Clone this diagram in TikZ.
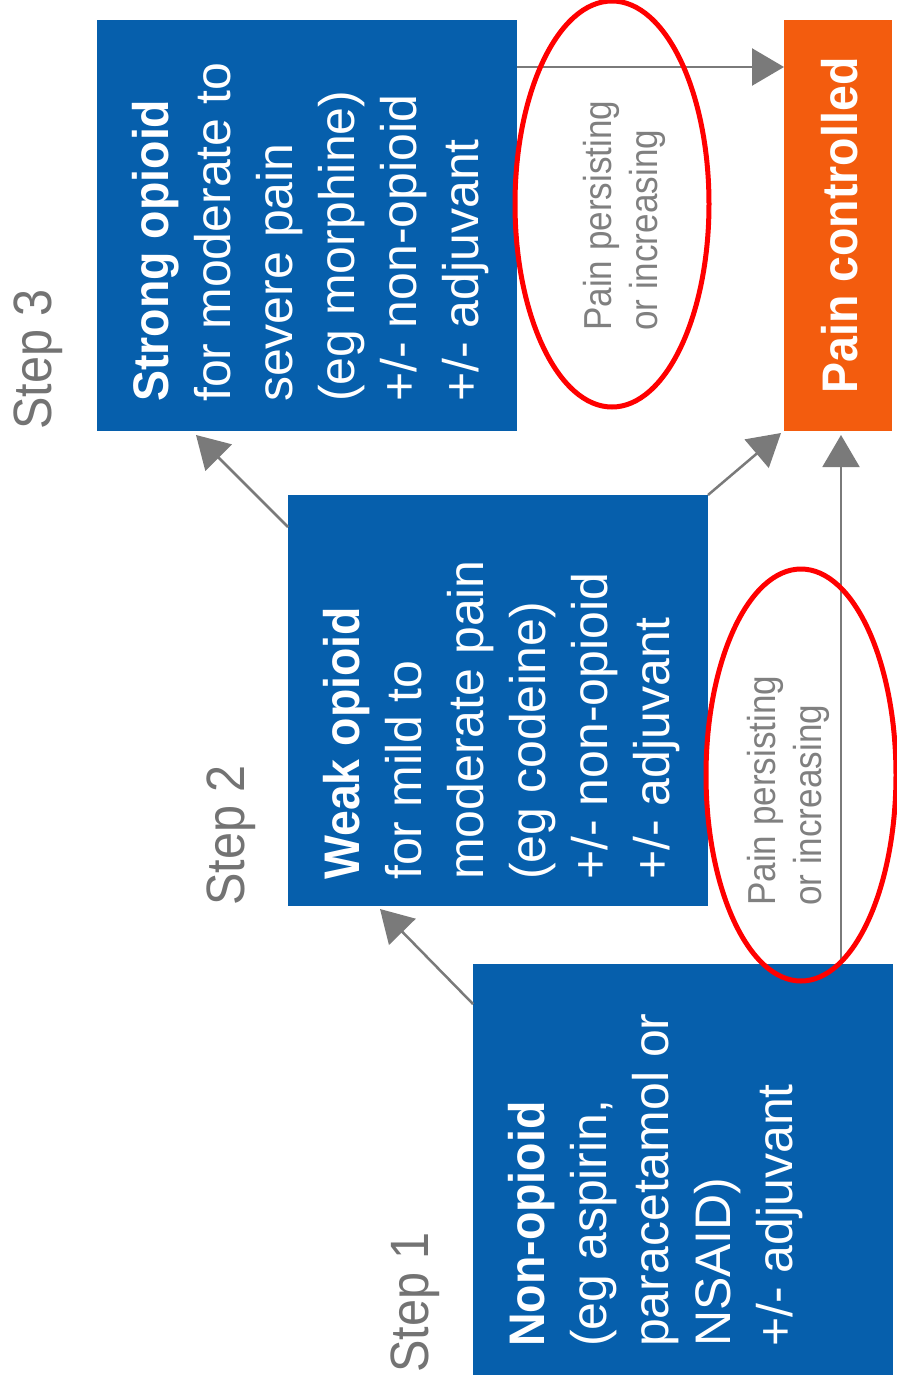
\documentclass[tikz,border=0pt]{standalone}
\usepackage{fontspec}
\setmainfont{Liberation Sans}
\newfontfamily\bcond{Liberation Sans}[FakeStretch=0.93]
\newfontfamily\rcond{Liberation Sans}[FakeStretch=0.9]
\usetikzlibrary{arrows.meta,calc}
\definecolor{boxblue}{RGB}{6,95,172}
\definecolor{pcorange}{RGB}{243,92,14}
\definecolor{arrgray}{RGB}{122,122,122}
\definecolor{labgray}{RGB}{115,115,115}
\definecolor{notegray}{RGB}{128,128,128}
\tikzset{
  stepbox/.style={fill=boxblue, draw=none, inner sep=0pt, outer sep=0pt, anchor=north west,
    minimum width=420pt, minimum height=411pt},
  pcbox/.style={fill=pcorange, draw=none, inner sep=0pt, outer sep=0pt, anchor=north west,
    minimum width=108pt, minimum height=411pt},
  boxtext/.style={text=white, align=left, inner sep=0pt, rotate=90, anchor=north west,
    font=\fontsize{50}{62}\selectfont},
  pctext/.style={text=white, inner sep=0pt, rotate=90, font=\fontsize{50}{62}\selectfont\bcond\bfseries},
  steplabel/.style={text=labgray, inner sep=0pt, rotate=90, anchor=north west,
    font=\fontsize{54}{60}\selectfont\rcond},
  notetext/.style={text=notegray, align=left, inner sep=0pt, rotate=90, anchor=north west,
    font=\fontsize{39}{46}\selectfont\rcond},
  arr/.style={draw=arrgray, line width=2.5pt, -{Triangle[length=32pt,width=37pt]}},
  redring/.style={draw=red, line width=5pt}
}
\begin{document}
\begin{tikzpicture}[x=1pt,y=-1pt]
\fill[white] (0,0) rectangle (897,1393);
\useasboundingbox (0,0) rectangle (897,1393);

% boxes
\node[stepbox] (b3) at (97,20) {};
\node[stepbox] (b2) at (288,495) {};
\node[stepbox] (b1) at (473,964) {};
\node[pcbox] (pc) at (784,20) {};

% box texts
\node[boxtext] (t3) at (132,402) {{\bcond\bfseries Strong opioid}\\for moderate to\\severe pain\\(eg morphine)\\+/- non-opioid\\+/- adjuvant};
\node[boxtext] (t2) at (323,880) {{\bcond\bfseries Weak opioid}\\for mild to\\moderate pain\\(eg codeine)\\+/- non-opioid\\+/- adjuvant};
\node[boxtext] (t1) at (508,1347) {{\bcond\bfseries Non-opioid}\\(eg aspirin,\\paracetamol or\\NSAID)\\+/- adjuvant};
\node[pctext] (tpc) at ([xshift=2pt]pc.center) {Pain controlled};

% step labels
\node[steplabel] (s3) at (14,430) {Step 3};
\node[steplabel] (s2) at (207,906) {Step 2};
\node[steplabel] (s1) at (391,1373) {Step 1};

% connectors
\coordinate (a3) at ([yshift=-47pt]b3.north east);
\draw[arr] (a3) -- (a3 -| pc.west);
\draw[arr] ([yshift=-32pt]b2.north west) -- ([xshift=99pt,yshift=-4pt]b3.south west);
\draw[arr] (b2.north east) -- ([xshift=-3pt,yshift=-2pt]pc.south west);
\draw[arr] ([yshift=-40pt]b1.north west) -- ([xshift=92pt,yshift=-3pt]b2.south west);
\coordinate (v1) at ([xshift=3pt]pc.south |- b1.north);
\draw[arr, line width=2pt] (v1) -- ([yshift=-4pt]v1 |- pc.south);

% notes
\node[notetext] (n1) at (583,331) {Pain persisting\\or increasing};
\node[notetext] (n2) at (747,906) {Pain persisting\\or increasing};

% red ellipses
\draw[redring] (612,204) ellipse [x radius=97pt, y radius=203pt];
\draw[redring] (801,775) ellipse [x radius=95pt, y radius=206pt];
\end{tikzpicture}
\end{document}
